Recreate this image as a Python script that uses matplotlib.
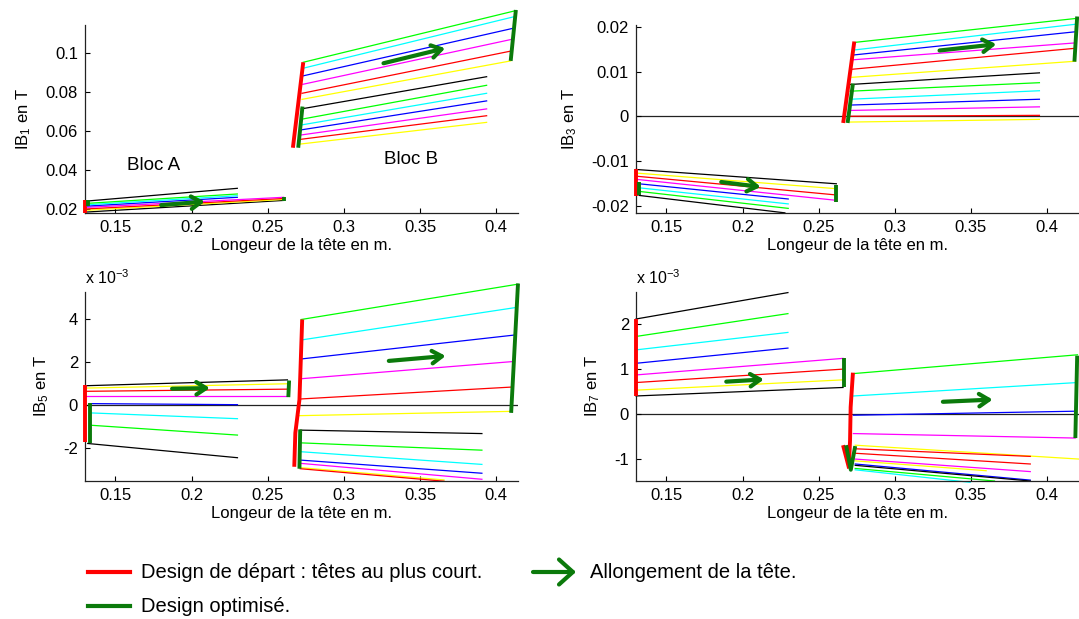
import matplotlib
matplotlib.use('Agg')
import matplotlib.pyplot as plt
from matplotlib.lines import Line2D
from matplotlib.patches import FancyArrowPatch

plt.rcParams['font.family'] = ['Liberation Sans', 'DejaVu Sans']
plt.rcParams['mathtext.fontset'] = 'custom'
plt.rcParams['mathtext.rm'] = 'Liberation Sans'
plt.rcParams['mathtext.it'] = 'Liberation Sans:italic'
plt.rcParams['mathtext.bf'] = 'Liberation Sans:bold'

# ---------------- text ----------------
XLABEL = 'Longeur de la tête en m.'
YLABELS = ['IB$_{\\mathregular{1}}$ en T', 'IB$_{\\mathregular{3}}$ en T',
           'IB$_{\\mathregular{5}}$ en T', 'IB$_{\\mathregular{7}}$ en T']
LEG_RED = 'Design de départ : têtes au plus court.'
LEG_GREEN = 'Design optimisé.'
LEG_ARROW = 'Allongement de la tête.'

x_ticks = [0.15, 0.2, 0.25, 0.3, 0.35, 0.4]
x_ticklabels = ['0.15', '0.2', '0.25', '0.3', '0.35', '0.4']
ib1_yticks = [0.02, 0.04, 0.06, 0.08, 0.1]
ib1_yticklabels = ['0.02', '0.04', '0.06', '0.08', '0.1']
ib3_yticks = [-0.02, -0.01, 0, 0.01, 0.02]
ib3_yticklabels = ['-0.02', '-0.01', '0', '0.01', '0.02']
ib5_yticks = [-2, 0, 2, 4]          # x 10^-3
ib5_yticklabels = ['-2', '0', '2', '4']
ib7_yticks = [-1, 0, 1, 2]          # x 10^-3
ib7_yticklabels = ['-1', '0', '1', '2']

# ---------------- IB1 ----------------
ib1_a_colors = ['k', 'y', 'r', 'm', 'b', 'c', 'g', 'k']
ib1_a_x0 = [0.130, 0.130, 0.130, 0.130, 0.1315, 0.1315, 0.1315, 0.1315]
ib1_a_y0 = [0.0186, 0.0195, 0.0202, 0.0210, 0.0217, 0.0224, 0.0231, 0.0243]
ib1_a_x1 = [0.2604, 0.2604, 0.2604, 0.2604, 0.2300, 0.2300, 0.2300, 0.2300]
ib1_a_y1 = [0.0246, 0.0251, 0.0256, 0.0262, 0.0262, 0.0270, 0.0279, 0.0308]
ib1_a_red_x = [0.130, 0.130]
ib1_a_red_y = [0.0183, 0.0246]
ib1_a_green1_x = [0.1318, 0.1318]
ib1_a_green1_y = [0.0215, 0.0246]
ib1_a_green2_x = [0.2604, 0.2604]
ib1_a_green2_y = [0.0244, 0.0264]
ib1_a_arrow_x = [0.180, 0.2087]
ib1_a_arrow_y = [0.0222, 0.0240]

ib1_b_colors = ['y', 'r', 'm', 'b', 'c', 'g', 'k', 'y', 'r', 'm', 'b', 'c', 'g']
ib1_b_x0 = [0.2715, 0.2715, 0.2715, 0.2715, 0.2715, 0.272, 0.272,
            0.2725, 0.2725, 0.273, 0.273, 0.273, 0.2733]
ib1_b_y0 = [0.0535, 0.0559, 0.0581, 0.0607, 0.0632, 0.0662, 0.0715,
            0.0764, 0.0795, 0.0841, 0.0884, 0.0923, 0.0954]
ib1_b_x1 = [0.3937, 0.3937, 0.3937, 0.3937, 0.3937, 0.3937, 0.3937,
            0.4095, 0.4100, 0.4105, 0.4110, 0.4120, 0.4130]
ib1_b_y1 = [0.0646, 0.0680, 0.0715, 0.0756, 0.0795, 0.0836, 0.0880,
            0.0961, 0.1012, 0.1072, 0.1128, 0.1188, 0.1219]
ib1_b_red_x = [0.2665, 0.2733]
ib1_b_red_y = [0.0516, 0.0954]
ib1_b_green1_x = [0.2700, 0.2728]
ib1_b_green1_y = [0.0516, 0.0727]
ib1_b_green2_x = [0.4095, 0.4129]
ib1_b_green2_y = [0.0961, 0.1222]
ib1_b_arrow_x = [0.326, 0.3665]
ib1_b_arrow_y = [0.0949, 0.1026]

# ---------------- IB3 ----------------
ib3_a_colors = ['k', 'y', 'r', 'm', 'b', 'c', 'g', 'k']
ib3_a_x0 = [0.130, 0.130, 0.130, 0.130, 0.132, 0.132, 0.132, 0.132]
ib3_a_y0 = [-0.0119, -0.0127, -0.0134, -0.0141, -0.0151, -0.0160, -0.0168, -0.0177]
ib3_a_x1 = [0.2616, 0.2616, 0.2616, 0.2616, 0.2300, 0.2300, 0.2300, 0.2278]
ib3_a_y1 = [-0.0151, -0.0162, -0.0176, -0.0188, -0.0185, -0.0196, -0.0206, -0.0216]
ib3_a_red_x = [0.130, 0.130]
ib3_a_red_y = [-0.0117, -0.0178]
ib3_a_green1_x = [0.1322, 0.1322]
ib3_a_green1_y = [-0.0148, -0.0177]
ib3_a_green2_x = [0.2612, 0.2612]
ib3_a_green2_y = [-0.0153, -0.0191]
ib3_a_arrow_x = [0.1860, 0.2119]
ib3_a_arrow_y = [-0.0147, -0.0158]

ib3_b_colors = ['y', 'r', 'm', 'b', 'c', 'g', 'k', 'y', 'r', 'm', 'b', 'c', 'g']
ib3_b_x0 = [0.2707, 0.2696, 0.2707, 0.2707, 0.2707, 0.2707, 0.2707,
            0.2718, 0.2718, 0.2718, 0.2730, 0.2730, 0.2734]
ib3_b_y0 = [-0.0013, 0.0000, 0.0013, 0.0025, 0.0038, 0.0056, 0.0071,
            0.0087, 0.0105, 0.0126, 0.0137, 0.0148, 0.0165]
ib3_b_x1 = [0.3950, 0.3950, 0.3950, 0.3950, 0.3950, 0.3950, 0.3950,
            0.4187, 0.4187, 0.4187, 0.4190, 0.4195, 0.4200]
ib3_b_y1 = [-0.0007, 0.0002, 0.0021, 0.0038, 0.0057, 0.0075, 0.0097,
            0.0123, 0.0152, 0.0164, 0.0189, 0.0206, 0.0219]
ib3_b_red_x = [0.2661, 0.2734]
ib3_b_red_y = [-0.0015, 0.0167]
ib3_b_green1_x = [0.2690, 0.2725]
ib3_b_green1_y = [-0.0015, 0.0073]
ib3_b_green2_x = [0.4180, 0.4198]
ib3_b_green2_y = [0.0122, 0.0223]
ib3_b_arrow_x = [0.3294, 0.3667]
ib3_b_arrow_y = [0.0147, 0.0161]

# ---------------- IB5 (x 10^-3) ----------------
ib5_a_colors = ['k', 'y', 'r', 'm', 'b', 'c', 'g', 'k']
ib5_a_x0 = [0.1307, 0.1307, 0.1307, 0.1307, 0.1330, 0.1330, 0.1330, 0.1318]
ib5_a_y0 = [0.91, 0.80, 0.65, 0.45, 0.08, -0.35, -0.92, -1.77]
ib5_a_x1 = [0.2629, 0.2629, 0.2629, 0.2629, 0.2301, 0.2301, 0.2301, 0.2301]
ib5_a_y1 = [1.18, 1.00, 0.75, 0.45, 0.03, -0.62, -1.38, -2.43]
ib5_a_red_x = [0.130, 0.130]
ib5_a_red_y = [0.92, -1.71]
ib5_a_green1_x = [0.1330, 0.1330]
ib5_a_green1_y = [0.10, -1.75]
ib5_a_green2_x = [0.2640, 0.2635]
ib5_a_green2_y = [1.15, 0.38]
ib5_a_arrow_x = [0.1872, 0.2120]
ib5_a_arrow_y = [0.77, 0.80]

ib5_b_colors = ['y', 'r', 'm', 'b', 'c', 'g', 'k', 'g', 'c', 'b', 'm', 'y', 'r']
ib5_b_x0 = [0.2704, 0.2704, 0.2713, 0.2719, 0.2719, 0.2719,
            0.2713, 0.2713, 0.2713, 0.2713, 0.2713, 0.2713, 0.2713]
ib5_b_y0 = [-0.48, 0.29, 1.23, 2.15, 3.03, 3.98,
            -1.15, -1.74, -2.15, -2.54, -2.69, -2.89, -2.94]
ib5_b_x1 = [0.4098, 0.4109, 0.4109, 0.4120, 0.4132, 0.4143,
            0.3906, 0.3906, 0.3906, 0.3906, 0.3906, 0.3657, 0.3657]
ib5_b_y1 = [-0.28, 0.85, 2.03, 3.26, 4.54, 5.62,
            -1.31, -2.08, -2.74, -3.15, -3.43, -3.46, -3.52]
ib5_b_red_x = [0.2726, 0.2708, 0.2681, 0.2674]
ib5_b_red_y = [3.98, 0.26, -1.28, -2.85]
ib5_b_green1_x = [0.2713, 0.2708]
ib5_b_green1_y = [-1.12, -2.94]
ib5_b_green2_x = [0.4143, 0.4098]
ib5_b_green2_y = [5.65, -0.35]
ib5_b_arrow_x = [0.3295, 0.3668]
ib5_b_arrow_y = [2.06, 2.29]

# ---------------- IB7 (x 10^-3) ----------------
ib7_a_colors = ['k', 'y', 'r', 'm', 'b', 'c', 'g', 'k']
ib7_a_x0 = [0.130, 0.130, 0.130, 0.130, 0.130, 0.130, 0.130, 0.130]
ib7_a_y0 = [0.40, 0.53, 0.70, 0.87, 1.13, 1.43, 1.73, 2.12]
ib7_a_x1 = [0.2660, 0.2660, 0.2660, 0.2660, 0.2298, 0.2298, 0.2298, 0.2298]
ib7_a_y1 = [0.59, 0.76, 1.00, 1.24, 1.47, 1.82, 2.24, 2.71]
ib7_a_red_x = [0.130, 0.130]
ib7_a_red_y = [0.40, 2.12]
ib7_a_green1_x = [0.2664, 0.2664]
ib7_a_green1_y = [0.59, 1.24]
ib7_a_arrow_x = [0.1893, 0.2140]
ib7_a_arrow_y = [0.72, 0.77]

ib7_b_colors = ['g', 'c', 'b', 'm', 'y', 'r', 'r', 'm', 'y', 'b', 'k', 'g', 'c']
ib7_b_x0 = [0.2728, 0.2728, 0.2728, 0.2728, 0.2740, 0.2740, 0.2740,
            0.2740, 0.2740, 0.2740, 0.2740, 0.2740, 0.2740]
ib7_b_y0 = [0.90, 0.40, -0.03, -0.44, -0.70, -0.78, -0.88,
            -1.01, -1.05, -1.12, -1.15, -1.22, -1.25]
ib7_b_x1 = [0.4200, 0.4198, 0.4193, 0.4185, 0.4210, 0.3890, 0.3890,
            0.3890, 0.3600, 0.3890, 0.3890, 0.3655, 0.3495]
ib7_b_y1 = [1.32, 0.70, 0.06, -0.54, -1.01, -0.95, -1.12,
            -1.29, -1.27, -1.48, -1.50, -1.50, -1.53]
ib7_b_red_x = [0.2725, 0.2710, 0.2706, 0.2700]
ib7_b_red_y = [0.92, 0.15, -0.60, -1.05]
ib7_b_red2_x = [0.2660, 0.2700]
ib7_b_red2_y = [-0.70, -1.22]
ib7_b_green1_x = [0.2680, 0.2711, 0.2740]
ib7_b_green1_y = [-0.70, -1.25, -0.72]
ib7_b_green2_x = [0.4198, 0.4186]
ib7_b_green2_y = [1.30, -0.54]
ib7_b_arrow_x = [0.3316, 0.3643]
ib7_b_arrow_y = [0.27, 0.32]

# ---------------- styling ----------------
COL = {'y': '#ffff00', 'r': '#ff0000', 'm': '#ff00ff', 'b': '#0000ff',
       'c': '#00ffff', 'g': '#00ff00', 'k': '#000000'}
RED = '#ff0000'
DGREEN = '#0b7a0b'
FS = 12

W, H = 1079, 619
fig = plt.figure(figsize=(W / 100, H / 100), dpi=100)


def px_axes(left, top, right, bottom):
    return fig.add_axes([left / W, 1 - bottom / H, (right - left) / W, (bottom - top) / H])


def style(ax, xlim, ylim, yticks, yticklabels, ylabel, zero=False):
    ax.set_xlim(*xlim)
    ax.set_ylim(*ylim)
    ax.set_xticks(x_ticks)
    ax.set_xticklabels(x_ticklabels)
    ax.set_yticks(yticks)
    ax.set_yticklabels(yticklabels)
    for s in ('top', 'right'):
        ax.spines[s].set_visible(False)
    for s in ('left', 'bottom'):
        ax.spines[s].set_linewidth(0.9)
        ax.spines[s].set_color('#222222')
    ax.tick_params(direction='in', length=3.5, width=0.8, labelsize=FS, pad=5)
    ax.set_xlabel(XLABEL, fontsize=FS, labelpad=2)
    ax.set_ylabel(ylabel, fontsize=FS, labelpad=9)
    ax.patch.set_alpha(0)
    if zero:
        ax.axhline(0, color='#222222', lw=0.9, zorder=1)


def block(ax, colors, x0, y0, x1, y1):
    for c, a, b, d, e in zip(colors, x0, y0, x1, y1):
        ax.plot([a, d], [b, e], color=COL[c], lw=0.9, clip_on=False, zorder=2)


def thick(ax, xs, ys, color):
    ax.plot(xs, ys, color=color, lw=2.8, clip_on=False, zorder=3,
            solid_capstyle='butt')


def arrow(ax, xs, ys):
    ax.annotate('', xy=(xs[1], ys[1]), xytext=(xs[0], ys[0]),
                arrowprops=dict(arrowstyle='->,head_length=0.7,head_width=0.45',
                                lw=3, color=DGREEN, shrinkA=0, shrinkB=0),
                zorder=4, annotation_clip=False)


XL_LEFT = (0.13, 0.4143)
XL_RIGHT = (0.13, 0.421)

# ---- IB1 ----
ax1 = px_axes(85, 25, 518, 213.3)
style(ax1, XL_LEFT, (0.018, 0.1145), ib1_yticks, ib1_yticklabels, YLABELS[0])
block(ax1, ib1_a_colors, ib1_a_x0, ib1_a_y0, ib1_a_x1, ib1_a_y1)
block(ax1, ib1_b_colors, ib1_b_x0, ib1_b_y0, ib1_b_x1, ib1_b_y1)
thick(ax1, ib1_a_red_x, ib1_a_red_y, RED)
thick(ax1, ib1_a_green1_x, ib1_a_green1_y, DGREEN)
thick(ax1, ib1_a_green2_x, ib1_a_green2_y, DGREEN)
thick(ax1, ib1_b_red_x, ib1_b_red_y, RED)
thick(ax1, ib1_b_green1_x, ib1_b_green1_y, DGREEN)
thick(ax1, ib1_b_green2_x, ib1_b_green2_y, DGREEN)
arrow(ax1, ib1_a_arrow_x, ib1_a_arrow_y)
arrow(ax1, ib1_b_arrow_x, ib1_b_arrow_y)
ax1.text(0.1747, 0.0427, 'Bloc A', fontsize=13.5, ha='center', va='center')
ax1.text(0.3444, 0.0456, 'Bloc B', fontsize=13.5, ha='center', va='center')

# ---- IB3 ----
ax2 = px_axes(636, 25, 1079, 213.3)
style(ax2, XL_RIGHT, (-0.0217, 0.0204), ib3_yticks, ib3_yticklabels, YLABELS[1], zero=True)
block(ax2, ib3_a_colors, ib3_a_x0, ib3_a_y0, ib3_a_x1, ib3_a_y1)
block(ax2, ib3_b_colors, ib3_b_x0, ib3_b_y0, ib3_b_x1, ib3_b_y1)
thick(ax2, ib3_a_red_x, ib3_a_red_y, RED)
thick(ax2, ib3_a_green1_x, ib3_a_green1_y, DGREEN)
thick(ax2, ib3_a_green2_x, ib3_a_green2_y, DGREEN)
thick(ax2, ib3_b_red_x, ib3_b_red_y, RED)
thick(ax2, ib3_b_green1_x, ib3_b_green1_y, DGREEN)
thick(ax2, ib3_b_green2_x, ib3_b_green2_y, DGREEN)
arrow(ax2, ib3_a_arrow_x, ib3_a_arrow_y)
arrow(ax2, ib3_b_arrow_x, ib3_b_arrow_y)

# ---- IB5 ----
ax3 = px_axes(85, 291.7, 518, 481)
style(ax3, XL_LEFT, (-3.51, 5.27), ib5_yticks, ib5_yticklabels, YLABELS[2], zero=True)
block(ax3, ib5_a_colors, ib5_a_x0, ib5_a_y0, ib5_a_x1, ib5_a_y1)
block(ax3, ib5_b_colors, ib5_b_x0, ib5_b_y0, ib5_b_x1, ib5_b_y1)
thick(ax3, ib5_a_red_x, ib5_a_red_y, RED)
thick(ax3, ib5_a_green1_x, ib5_a_green1_y, DGREEN)
thick(ax3, ib5_a_green2_x, ib5_a_green2_y, DGREEN)
thick(ax3, ib5_b_red_x, ib5_b_red_y, RED)
thick(ax3, ib5_b_green1_x, ib5_b_green1_y, DGREEN)
thick(ax3, ib5_b_green2_x, ib5_b_green2_y, DGREEN)
arrow(ax3, ib5_a_arrow_x, ib5_a_arrow_y)
arrow(ax3, ib5_b_arrow_x, ib5_b_arrow_y)
ax3.text(0.0, 1.025, 'x 10$^{\\mathregular{-3}}$', transform=ax3.transAxes,
         fontsize=11.5, ha='left', va='bottom')

# ---- IB7 ----
ax4 = px_axes(636, 291.7, 1079, 481)
style(ax4, XL_RIGHT, (-1.50, 2.73), ib7_yticks, ib7_yticklabels, YLABELS[3], zero=True)
block(ax4, ib7_a_colors, ib7_a_x0, ib7_a_y0, ib7_a_x1, ib7_a_y1)
block(ax4, ib7_b_colors, ib7_b_x0, ib7_b_y0, ib7_b_x1, ib7_b_y1)
thick(ax4, ib7_a_red_x, ib7_a_red_y, RED)
thick(ax4, ib7_a_green1_x, ib7_a_green1_y, DGREEN)
thick(ax4, ib7_b_red_x, ib7_b_red_y, RED)
thick(ax4, ib7_b_red2_x, ib7_b_red2_y, RED)
thick(ax4, ib7_b_green1_x, ib7_b_green1_y, DGREEN)
thick(ax4, ib7_b_green2_x, ib7_b_green2_y, DGREEN)
arrow(ax4, ib7_a_arrow_x, ib7_a_arrow_y)
arrow(ax4, ib7_b_arrow_x, ib7_b_arrow_y)
ax4.text(0.0, 1.025, 'x 10$^{\\mathregular{-3}}$', transform=ax4.transAxes,
         fontsize=11.5, ha='left', va='bottom')

# ---- bottom legend ----
LFS = 14.5
def fx(p):
    return p / W
def fy(p):
    return 1 - p / H

fig.add_artist(Line2D([fx(88), fx(130)], [fy(572), fy(572)], color=RED, lw=3,
                      transform=fig.transFigure))
fig.add_artist(Line2D([fx(88), fx(130)], [fy(606), fy(606)], color=DGREEN, lw=3,
                      transform=fig.transFigure))
fig.text(fx(141), fy(572), LEG_RED, fontsize=LFS, ha='left', va='center')
fig.text(fx(141), fy(606), LEG_GREEN, fontsize=LFS, ha='left', va='center')
fig.add_artist(FancyArrowPatch((fx(533), fy(572)), (fx(576), fy(572)),
                               transform=fig.transFigure,
                               arrowstyle='->,head_length=0.5,head_width=0.45',
                               mutation_scale=20,
                               lw=3, color=DGREEN, shrinkA=0, shrinkB=0))
fig.text(fx(590), fy(572), LEG_ARROW, fontsize=LFS, ha='left', va='center')

fig.savefig('out.png', dpi=100)
